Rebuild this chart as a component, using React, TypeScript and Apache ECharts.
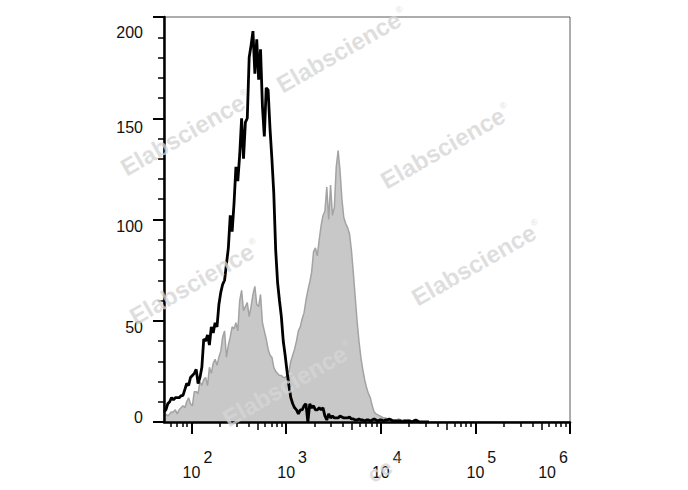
import React, { useEffect, useRef } from "react";
import * as echarts from "echarts";

// Histogram channels: log10 position of the first channel and channel width (decades)
const channelStartLog = 1.71;
const channelStepLog = 0.02;

// Black outline histogram (control)
const controlCounts = [
  5, 6, 9, 10, 12, 11, 12, 12, 12, 13,
  13, 16, 19, 18, 22, 23, 24, 26, 19, 22,
  27, 41, 40, 43, 38, 47, 44, 49, 47, 58,
  64, 68, 70, 78, 86, 102, 94, 108, 126, 119,
  132, 150, 130, 148, 150, 180, 186, 193, 172, 189,
  169, 184, 156, 141, 165, 164, 145, 130, 113, 85,
  69, 60, 52, 40, 33, 25, 18, 12, 9, 7,
  6, 4, 6, 6, 8, 9, 0, 9, 7, 8,
  6, 6, 7, 6, 7, 3, 1, 4, 2, 3,
  2, 2, 2, 3, 2.5, 2, 2, 2, 2.5, 1.5,
  1.5, 1, 1, 1.5, 1, 1, 0.5, 1, 1, 0.5,
  1, 1.5, 1, 0.5, 1, 1, 0.5, 1, 1, 1.5,
  1, 0.5, 0.5, 0.5, 0.5, 0.5, 0, 0.5, 0.5, 0.5,
  0.5, 0, 0.5, 1, 0.5, 0, 0, 0, 0, 0,
  0,
];

// Grey filled histogram (stained)
const stainedCounts = [
  3, 4, 3, 4, 5, 5, 6, 4, 6, 7,
  8, 7, 10, 12, 9, 8, 15, 15, 14, 20,
  18, 21, 22, 18, 27, 24, 29, 31, 28, 32,
  35, 42, 45, 32, 38, 42, 47, 46, 49, 45,
  60, 65, 55, 57, 59, 52, 57, 63, 67, 58,
  57, 63, 49, 45, 41, 36, 33, 32, 27, 25,
  24, 23, 23, 22, 22, 23, 25, 30, 33, 36,
  40, 45, 47, 51, 54, 60, 65, 69, 74, 84,
  86, 82, 90, 97, 102, 104, 116, 100, 117, 102,
  106, 126, 134, 124, 110, 101, 98, 96, 93, 85,
  74, 62, 50, 40, 32, 26, 21, 17, 14, 12,
  8, 5, 4, 3.5, 3, 2.5, 2, 2, 1.5, 1.5,
  1.5, 1, 1, 1, 1.5, 1, 1, 1, 0.5, 1,
  0.5, 0.5, 1, 0.5, 0.5, 0, 0, 0, 0, 0,
  0,
];

const yTickValues = [0, 50, 100, 150, 200];
const xDecadeExponents = [2, 3, 4, 5, 6];
const xMinorMultipliers = [2, 3, 4, 6, 7, 8, 9];
const xMidMultiplier = 5;
const xDecadeBases = [10, 100, 1000, 10000, 100000];

const X_MIN = 1.71;
const X_MAX = 6;

const watermarkSpots = [
  [342, 50],
  [186, 133],
  [446, 146],
  [477, 263],
  [195, 282],
  [288, 384],
];
// the watermark that the bottom edge cuts, of which only the tail shows
const partialWatermarkSpot = [380, 471];
const partialWatermarkMarkSpot = [398, 459];

const FONT = '"Liberation Sans", Arial, Helvetica, sans-serif';
const WM_FILL = "rgba(214,214,214,0.78)";

function toPairs(counts: number[]) {
  return counts.map((c, i) => [
    Math.round((channelStartLog + i * channelStepLog) * 1000) / 1000,
    c,
  ]);
}

function logTicks(mults: number[]) {
  const out: number[] = [];
  xDecadeBases.forEach((b) => {
    mults.forEach((m) => {
      const v = Math.log10(b * m);
      if (v >= X_MIN && v <= X_MAX) out.push(v);
    });
  });
  return out;
}

export default function App() {
  const ref = useRef<HTMLDivElement>(null);

  useEffect(() => {
    document.body.style.margin = "0";
    if (!ref.current) return;
    const chart = echarts.init(ref.current, undefined, { renderer: "svg" });

    const baseX = {
      type: "value" as const,
      min: X_MIN,
      max: X_MAX,
      position: "bottom" as const,
      splitLine: { show: false },
    };

    const wmRich = {
      a: { fontSize: 24, fontWeight: "bold", fontFamily: FONT, fill: WM_FILL },
      r: { fontSize: 9, fontFamily: FONT, fill: WM_FILL, padding: [0, 0, 14, 1] },
    };

    const option: any = {
      animation: false,
      backgroundColor: "#ffffff",
      grid: {
        left: 164,
        right: 118,
        top: 17,
        bottom: 68,
        show: true,
        borderColor: "#5a5a5a",
        borderWidth: 1,
        backgroundColor: "transparent",
      },
      xAxis: [
        {
          ...baseX,
          z: 5,
          axisLine: { show: true, onZero: false, lineStyle: { color: "#000", width: 2.5 } },
          axisTick: {
            show: true,
            customValues: xDecadeExponents,
            length: 12,
            lineStyle: { color: "#000", width: 2 },
          },
          axisLabel: {
            show: true,
            customValues: xDecadeExponents,
            margin: 27,
            formatter: (v: number) => {
              const e = Math.round(v);
              return e === 6 ? `{b6|10}{s6|${e}}` : `{b|10}{s|${e}}`;
            },
            rich: {
              b: { fontSize: 16, fontFamily: FONT, color: "#111", padding: [15, 0, 0, 12] },
              s: { fontSize: 16, fontFamily: FONT, color: "#111", padding: [0, 0, 15, 3] },
              b6: { fontSize: 16, fontFamily: FONT, color: "#111", padding: [15, 0, 0, 0] },
              s6: { fontSize: 16, fontFamily: FONT, color: "#111", padding: [0, 34, 15, 3] },
            },
          },
        },
        {
          ...baseX,
          axisLine: { show: false, onZero: false },
          axisLabel: { show: false },
          axisTick: {
            show: true,
            customValues: logTicks([xMidMultiplier]),
            length: 8,
            lineStyle: { color: "#000", width: 1.5 },
          },
        },
        {
          ...baseX,
          axisLine: { show: false, onZero: false },
          axisLabel: { show: false },
          axisTick: {
            show: true,
            customValues: logTicks(xMinorMultipliers),
            length: 5,
            lineStyle: { color: "#000", width: 1.5 },
          },
        },
      ],
      yAxis: {
        type: "value",
        min: 0,
        max: 200,
        interval: 50,
        z: 5,
        splitLine: { show: false },
        axisLine: { show: true, onZero: false, lineStyle: { color: "#000", width: 2.5 } },
        axisTick: { show: true, length: 11, lineStyle: { color: "#000", width: 2 } },
        minorTick: { show: true, splitNumber: 5, length: 6, lineStyle: { color: "#000", width: 1.5 } },
        minorSplitLine: { show: false },
        axisLabel: {
          margin: 21,
          customValues: yTickValues,
          formatter: (v: number) => `{y${v}|${v}}`,
          rich: {
            y0: { fontSize: 16, fontFamily: FONT, color: "#111", padding: [0, 0, 10, 0] },
            y50: { fontSize: 16, fontFamily: FONT, color: "#111", padding: [14, 0, 0, 0] },
            y100: { fontSize: 16, fontFamily: FONT, color: "#111", padding: [14, 0, 0, 0] },
            y150: { fontSize: 16, fontFamily: FONT, color: "#111", padding: [18, 0, 0, 0] },
            y200: { fontSize: 16, fontFamily: FONT, color: "#111", padding: [30, 0, 0, 0] },
          },
        },
      },
      series: [
        {
          name: "Stained",
          type: "line",
          xAxisIndex: 0,
          data: toPairs(stainedCounts),
          symbol: "none",
          lineStyle: { color: "#a3a3a3", width: 1.5 },
          areaStyle: { color: "#c8c8c8", opacity: 1 },
          z: 2,
        },
        {
          name: "Control",
          type: "line",
          xAxisIndex: 0,
          data: toPairs(controlCounts),
          symbol: "none",
          lineStyle: { color: "#000", width: 2.8 },
          z: 3,
        },
      ],
      graphic: [
        ...watermarkSpots.map(([x, y]) => ({
          type: "text",
          x,
          y,
          rotation: 0.52,
          z: 100,
          silent: true,
          style: {
            text: "{a|Elabscience}{r|®}",
            align: "center",
            verticalAlign: "middle",
            rich: wmRich,
          },
        })),
        {
          type: "text",
          x: partialWatermarkSpot[0],
          y: partialWatermarkSpot[1],
          rotation: 0.52,
          z: 100,
          silent: true,
          style: {
            text: "ce",
            align: "center",
            verticalAlign: "middle",
            font: `bold 22px ${FONT}`,
            fill: WM_FILL,
          },
        },
        {
          type: "text",
          x: partialWatermarkMarkSpot[0],
          y: partialWatermarkMarkSpot[1],
          rotation: 0.52,
          z: 100,
          silent: true,
          style: {
            text: "®",
            align: "center",
            verticalAlign: "middle",
            font: `9px ${FONT}`,
            fill: WM_FILL,
          },
        },
      ],
    };

    chart.setOption(option);
    return () => chart.dispose();
  }, []);

  return <div ref={ref} style={{ width: 688, height: 490 }} />;
}
